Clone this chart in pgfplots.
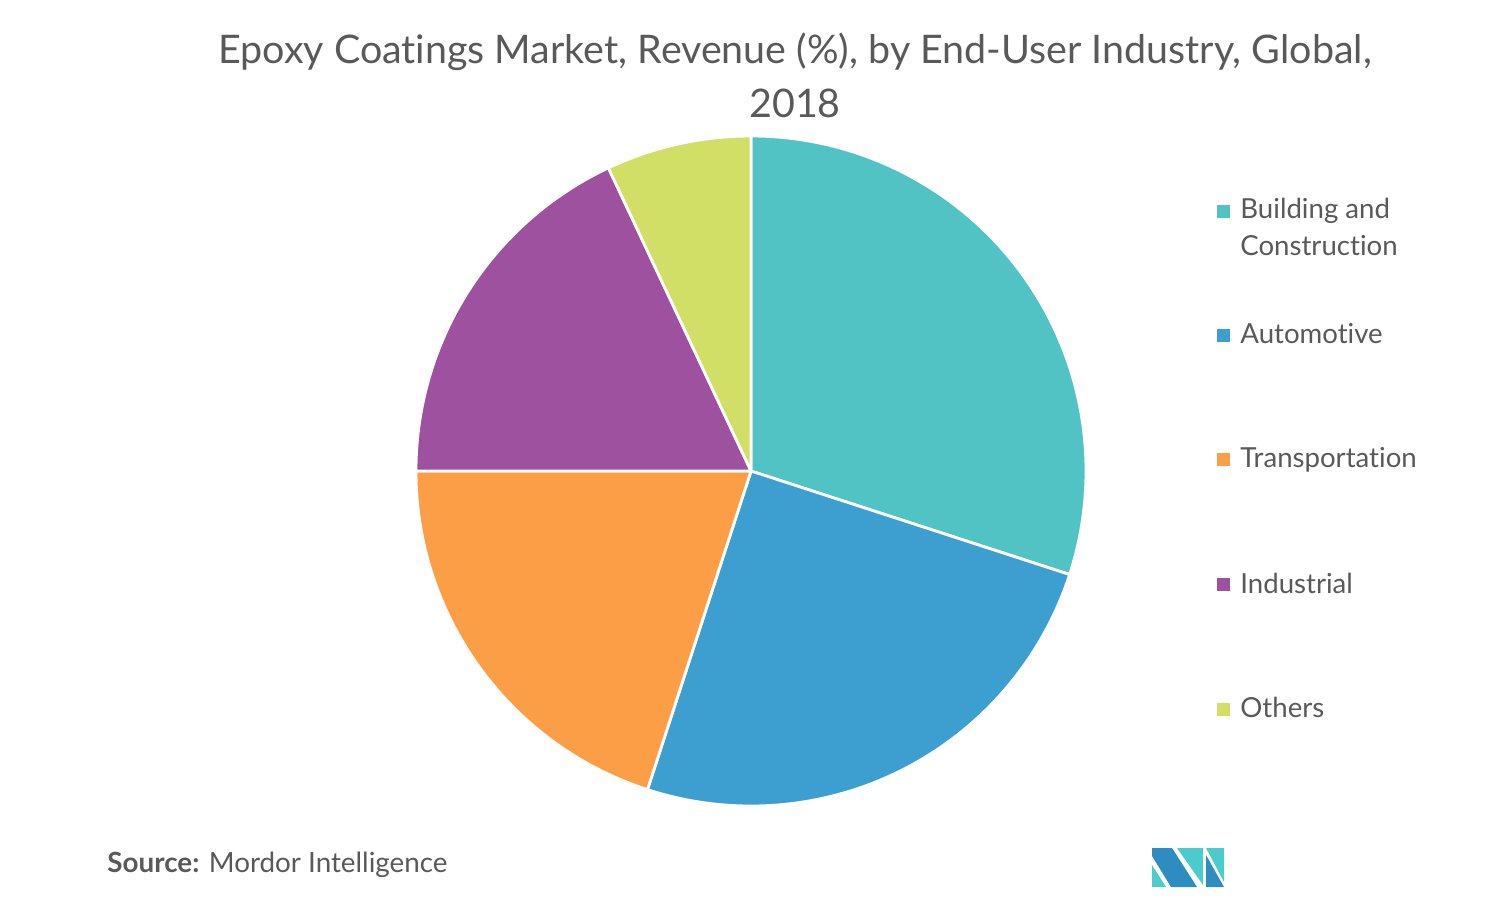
\documentclass[border=0pt]{standalone}
\usepackage{fontspec}
\setmainfont{Lato}[Ligatures={NoCommon,TeX}]
\usepackage{pgfplots}
\pgfplotsset{compat=1.18}
\usepackage{pgfplotstable}

\definecolor{txt}{HTML}{595959}
\definecolor{slice0}{HTML}{52C3C5}
\definecolor{slice1}{HTML}{3D9FD0}
\definecolor{slice2}{HTML}{FC9E45}
\definecolor{slice3}{HTML}{9D519F}
\definecolor{slice4}{HTML}{D1DF67}
\definecolor{logoblue}{HTML}{2E8DC0}
\definecolor{logoteal}{HTML}{4CCBCD}

% share of revenue, clockwise from 12 o'clock
\pgfplotstableread{
idx value
0 30
1 25
2 20
3 18
4 7
}\piedata

\begin{document}
\begin{tikzpicture}
\begin{axis}[
  scale only axis,
  width=744.5pt, height=451pt,
  xmin=0, xmax=1489, ymin=0, ymax=902,
  y dir=reverse,
  hide axis,
  clip=false,
]
\path (rel axis cs:0,0) rectangle (rel axis cs:1,1);

% pie slices
\def\cum{90}
\pgfplotsforeachungrouped \i in {0,...,4}{%
  \pgfplotstablegetelem{\i}{value}\of\piedata
  \pgfmathsetmacro\endang{\cum-3.6*\pgfplotsretval}%
  \edef\doslice{\noexpand\fill[slice\i, draw=white, line width=1.4pt, line join=round]
    (axis cs:751,471) -- ([shift={(\cum:167.5pt)}]axis cs:751,471)
    arc[start angle=\cum, end angle=\endang, radius=167.5pt] -- cycle;}%
  \doslice
  \global\let\cum\endang
}

% title
\node[anchor=base, text=txt, font=\fontsize{19.7}{24}\selectfont] at (axis cs:795,63)
  {Epoxy Coatings Market, Revenue (\%), by End-User Industry, Global,};
\node[anchor=base, text=txt, font=\fontsize{19.7}{24}\selectfont] at (axis cs:795,117) {2018};

% legend
\fill[slice0] (axis cs:1217,205) rectangle (axis cs:1230,218);
\fill[slice1] (axis cs:1217,329) rectangle (axis cs:1230,342);
\fill[slice2] (axis cs:1217,453) rectangle (axis cs:1230,466);
\fill[slice3] (axis cs:1217,578) rectangle (axis cs:1230,591);
\fill[slice4] (axis cs:1217,703) rectangle (axis cs:1230,716);
\tikzset{legtxt/.style={anchor=base west, inner sep=0pt, text=txt, font=\fontsize{13.8}{16}\selectfont}}
\node[legtxt] at (axis cs:1240,218) {Building and};
\node[legtxt] at (axis cs:1240,255) {Construction};
\node[legtxt] at (axis cs:1240,343) {Automotive};
\node[legtxt] at (axis cs:1240,467) {Transportation};
\node[legtxt] at (axis cs:1240,593) {Industrial};
\node[legtxt] at (axis cs:1240,717) {Others};

% source
\node[anchor=base west, inner sep=0pt, text=txt, font=\fontsize{13.9}{16}\selectfont] at (axis cs:107,872)
  {\textbf{Source:} Mordor Intelligence};

% logo
\fill[logoteal] (axis cs:1152,865) -- (axis cs:1152,887) -- (axis cs:1166,887) -- cycle;
\fill[logoblue] (axis cs:1152,848) -- (axis cs:1172,848) -- (axis cs:1197,887)
  -- (axis cs:1171,887) -- (axis cs:1152,856) -- cycle;
\fill[logoteal] (axis cs:1177,848) -- (axis cs:1203,848) -- (axis cs:1203,885) -- cycle;
\fill[logoteal] (axis cs:1206,848) -- (axis cs:1224,848) -- (axis cs:1224,882) -- cycle;
\fill[logoblue] (axis cs:1206,855) -- (axis cs:1206,887) -- (axis cs:1224,887) -- cycle;
\end{axis}
\end{tikzpicture}
\end{document}
